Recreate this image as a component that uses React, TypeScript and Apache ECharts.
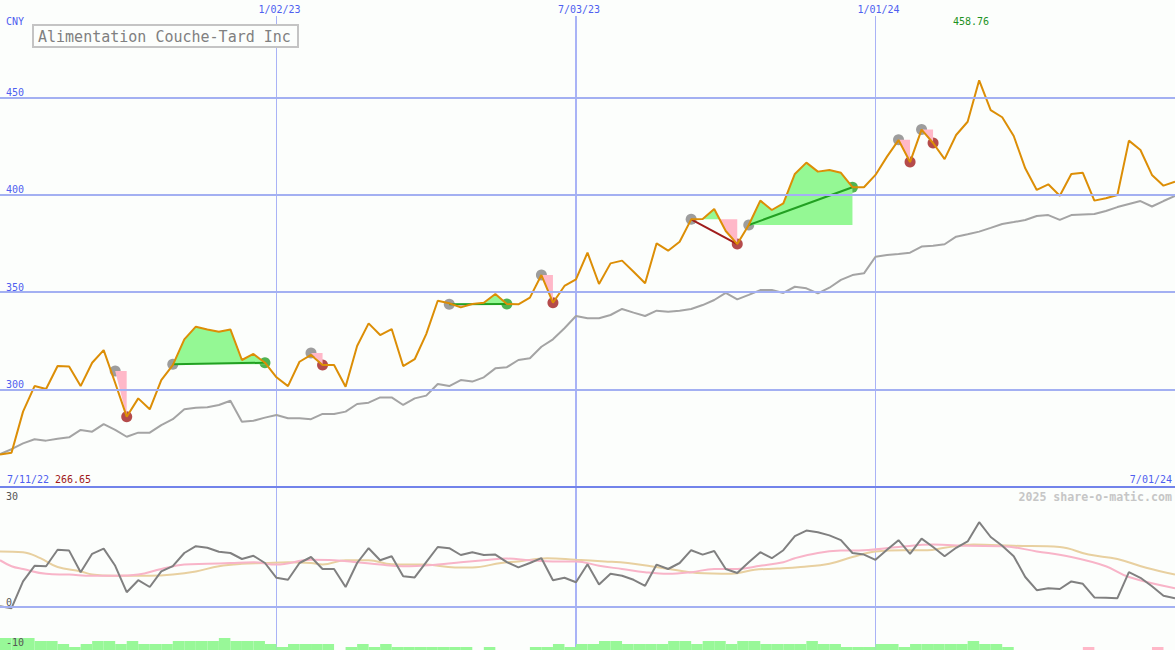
import { useEffect, useRef } from 'react';
import * as echarts from 'echarts';

// ---------- data ----------
const currency = 'CNY';
const company = 'Alimentation Couche-Tard Inc';
const credit = '2025 share-o-matic.com';
const firstDate = '7/11/22';
const lastDate = '7/01/24';
const dateLabels = ['1/02/23', '7/03/23', '1/01/24'];
const dateWeeks = [24, 50, 76];
const priceTicks = [300, 350, 400, 450];
const oscTicks = [0, -10];
const oscTopTicks = [30];

// weekly closes (week 0 .. 102)
const price = [
  266.65, 267.6, 288.7, 301.8, 300.3, 312.1, 311.8, 301.8, 313.8, 320.3,
  303.4, 286.1, 295.5, 289.9, 304.9, 312.6, 325.8, 332.3, 330.9, 329.7,
  330.9, 315.2, 318.3, 313.8, 306.3, 301.8, 314.3, 317.8, 312.6, 312.6,
  301.5, 322.4, 334.0, 328.0, 331.1, 312.1, 315.6, 328.5, 345.6, 344.3,
  342.2, 343.9, 344.6, 349.1, 343.9, 343.8, 347.2, 358.8, 344.6, 353.2,
  356.6, 370.3, 354.2, 364.8, 366.2, 360.5, 354.6, 375.1, 371.3, 375.9,
  387.4, 387.6, 392.7, 381.4, 374.7, 384.5, 397.0, 392.2, 395.6, 410.7,
  416.5, 411.9, 412.7, 411.3, 403.9, 403.9, 410.2, 419.6, 428.1, 416.8,
  433.5, 426.6, 418.3, 430.7, 437.5, 458.76, 443.5, 439.8, 430.2, 413.6,
  402.5, 405.4, 399.5, 410.7, 411.3, 397.0, 398.2, 399.9, 427.8, 423.0,
  410.2, 404.7, 406.7,
];

// moving average (grey)
const average = [
  266.9, 269.4, 272.4, 274.5, 273.8, 274.8, 275.5, 279.3, 278.4, 282.3,
  279.3, 275.8, 277.9, 277.9, 281.8, 284.8, 289.9, 290.7, 290.9, 292.1,
  294.3, 283.5, 284.0, 285.6, 287.0, 285.3, 285.3, 284.8, 287.5, 287.5,
  288.7, 292.6, 293.3, 296.0, 296.0, 292.1, 295.5, 296.9, 302.9, 301.8,
  304.9, 304.1, 306.3, 310.9, 311.5, 315.2, 316.1, 322.0, 325.8, 331.5,
  337.8, 336.6, 336.6, 338.3, 341.4, 339.5, 337.8, 340.5, 340.0, 340.5,
  341.4, 343.4, 346.0, 349.7, 346.3, 348.6, 351.1, 351.1, 349.6, 352.8,
  352.0, 349.4, 352.3, 356.3, 358.8, 359.7, 368.2, 369.1, 369.6, 370.3,
  373.4, 373.9, 374.6, 378.5, 379.7, 381.1, 383.0, 385.0, 386.0, 387.1,
  389.1, 389.6, 387.1, 389.6, 389.9, 390.1, 391.7, 393.7, 395.3, 396.8,
  394.0, 396.8, 399.4,
];

// lower panel oscillator (dark grey)
const oscillator = [
  0.2, -0.3, 6.4, 10.3, 10.2, 14.3, 14.1, 8.7, 13.3, 14.6,
  10.3, 3.7, 6.7, 5.0, 8.9, 10.2, 13.5, 15.2, 14.8, 13.8,
  13.5, 12.0, 12.8, 11.0, 7.3, 6.8, 11.0, 12.5, 9.5, 9.5,
  5.0, 11.0, 14.7, 11.7, 12.7, 7.7, 7.4, 11.2, 15.0, 14.7,
  13.0, 13.7, 13.0, 13.1, 11.2, 9.9, 11.0, 12.2, 6.7, 7.3,
  6.2, 10.7, 5.6, 8.3, 7.8, 6.8, 5.3, 10.6, 9.5, 11.0,
  14.2, 13.1, 14.0, 9.5, 8.5, 11.2, 13.7, 12.2, 14.2, 17.7,
  19.1, 18.7, 17.9, 16.7, 13.5, 13.1, 11.8, 14.3, 16.7, 13.3,
  17.1, 15.0, 12.7, 14.8, 16.4, 21.2, 17.5, 15.3, 12.7, 7.5,
  4.2, 4.7, 4.5, 6.4, 5.8, 2.4, 2.3, 2.2, 8.7, 7.3,
  5.2, 2.8, 2.2,
];

// smoothed signal lines, [week, value]
const pinkSignal: [number, number][] = [
  [0, 11.7], [1, 10.2], [2, 9.5], [4, 8.3], [6, 8.1], [8, 7.8], [10, 7.8], [12, 8.1],
  [14, 9.5], [16, 10.6], [18, 10.8], [20, 11.0], [22, 11.2], [24, 10.6], [27, 11.8],
  [29, 11.7], [31, 11.2], [33, 10.6], [35, 10.2], [38, 10.6], [40, 11.2], [42, 11.7],
  [44, 12.1], [46, 11.7], [48, 11.4], [50, 11.4], [52, 10.3], [54, 9.5], [56, 8.7],
  [58, 8.3], [60, 8.7], [62, 9.5], [64, 9.5], [66, 10.3], [68, 11.2], [69, 12.2],
  [71, 13.5], [73, 14.1], [75, 14.2], [78, 15.0], [81, 15.6], [84, 15.3], [87, 15.2],
  [90, 13.9], [93, 12.5], [96, 10.2], [98, 7.5], [102, 4.7],
];
const tanSignal: [number, number][] = [
  [0, 13.9], [2, 13.7], [3.5, 12.2], [5, 10.0], [7, 8.9], [8, 8.1], [10, 7.8], [13, 7.8],
  [15, 8.1], [17, 8.9], [19, 10.2], [21, 10.8], [23, 11.0], [25, 11.2], [27, 11.0],
  [28, 10.6], [30, 11.7], [32, 11.7], [34, 10.7], [37, 10.6], [39.5, 9.9], [41, 9.9],
  [43.5, 11.0], [45, 11.4], [47.5, 12.2], [50, 11.8], [52.5, 11.4], [54.5, 11.0],
  [56.5, 10.2], [58.5, 9.3], [60.5, 8.5], [63.5, 8.3], [65.5, 9.3], [67.5, 9.6],
  [69.5, 10.0], [72, 10.8], [74, 12.5], [76, 13.9], [78.5, 14.2], [80.5, 14.2],
  [82, 14.8], [84.5, 15.6], [88, 15.3], [92, 15.0], [94.5, 13.1], [97, 12.0],
  [99.5, 9.8], [102, 8.1],
];

// bottom strength histogram, one bar per week (negative = pink)
const strength = [
  4, 4, 4, 3, 3, 2, 1, 2, 3, 3, 2, 3, 2, 2, 2, 3, 3, 3, 3, 4,
  3, 3, 3, 2, 1, 2, 2, 2, 2, 0, 1, 2, 1, 2, 1, 1, 1, 1, 1, 1,
  1, 0, 1, 0, 0, 0, 1, 1, 2, 1, 2, 2, 3, 3, 2, 2, 2, 2, 3, 3,
  2, 3, 3, 2, 3, 3, 2, 2, 2, 2, 3, 2, 2, 1, 1, 1, 2, 2, 1, 2,
  2, 2, 2, 2, 3, 2, 2, 1, 0, 0, 0, 0, 0, 0, -1, 0, 0, 0, 0, 0,
  -1, 0,
];

// trades
const entryWeek = [10, 15, 27, 39, 47, 60, 65, 78, 80];
const entryPrice = [309.6, 313.0, 318.8, 343.8, 358.8, 387.4, 384.5, 428.3, 433.5];
const exitWeek = [11, 23, 28, 44, 48, 64, 74, 79, 81];

// ---------- helpers ----------
const GREEN_FILL = '#94f894';
const PINK_FILL = '#ffb8c8';
const FONT = '"DejaVu Sans Mono", monospace';

function tradePath(k: number): number[][] {
  const pts = [[entryWeek[k], entryPrice[k]]];
  for (let i = entryWeek[k] + 1; i <= exitWeek[k]; i++) pts.push([i, price[i]]);
  return pts;
}
function clipToLevel(pts: number[][], level: number, above: boolean): number[][] {
  const f = above ? Math.max : Math.min;
  const out: number[][] = [[pts[0][0], level]];
  for (let j = 0; j < pts.length; j++) {
    const [x, y] = pts[j];
    if (j > 0) {
      const [x0, y0] = pts[j - 1];
      if ((y0 - level) * (y - level) < 0) {
        const t = (level - y0) / (y - y0);
        out.push([x0 + t * (x - x0), level]);
      }
    }
    out.push([x, f(y, level)]);
  }
  out.push([pts[pts.length - 1][0], level]);
  return out;
}

const fillPolys: number[][][] = [];
const fillColors: string[] = [];
entryWeek.forEach((_, k) => {
  const pts = tradePath(k);
  fillPolys.push(clipToLevel(pts, entryPrice[k], true));
  fillColors.push(GREEN_FILL);
  fillPolys.push(clipToLevel(pts, entryPrice[k], false));
  fillColors.push(PINK_FILL);
});

const isWin = (k: number) => price[exitWeek[k]] >= entryPrice[k];
const lineTrades = entryWeek.map((_, k) => k).filter((k) => exitWeek[k] - entryWeek[k] > 1);

export default function App() {
  const ref = useRef<HTMLDivElement>(null);
  useEffect(() => {
    if (!ref.current) return;
    const chart = echarts.init(ref.current, undefined, { renderer: 'svg' });
    const maxV = Math.max(...price);
    const minV = Math.min(...price);
    const lastWeek = price.length - 1;
    const barW = 1175 / lastWeek;
    const LINE_TOP = 16;
    const CLEAR = 'rgba(0,0,0,0)';

    const xBase = { type: 'value', min: 0, max: lastWeek, show: false, splitLine: { show: false } };
    const textStyle = (o: any) => ({ ...o, textAlign: o.align, textVerticalAlign: o.verticalAlign });

    chart.setOption({
      animation: false,
      backgroundColor: '#fcfefc',
      grid: [
        { left: 0, top: 0, width: 1175, height: 487 },
        { left: 0, top: 487, width: 1175, height: 160 },
        { left: 0, top: 635, width: 1175, height: 15 },
      ],
      xAxis: [
        { ...xBase, gridIndex: 0 },
        { ...xBase, gridIndex: 1 },
        { ...xBase, gridIndex: 2 },
      ],
      yAxis: [
        {
          type: 'value', gridIndex: 0, position: 'left', min: 250, max: 500, interval: 50,
          axisLine: { show: false }, axisTick: { show: false },
          axisLabel: {
            inside: true, margin: 6, verticalAlign: 'bottom', color: '#4f5ff0',
            fontSize: 10, fontFamily: FONT,
            formatter: (v: number) => (priceTicks.includes(v) ? String(v) : ''),
          },
          splitLine: {
            show: true,
            lineStyle: { width: 2, color: ['#7283ea', '#a3b0f2', '#a3b0f2', '#a3b0f2', '#a3b0f2', CLEAR] },
          },
          z: 10,
        },
        {
          type: 'value', gridIndex: 1, position: 'left', min: -10, max: 30, interval: 10,
          axisLine: { show: false }, axisTick: { show: false },
          axisLabel: {
            inside: true, margin: 6, verticalAlign: 'bottom', color: '#555555',
            fontSize: 10, fontFamily: FONT,
            formatter: (v: number) => (oscTicks.includes(v) ? String(v) : ''),
          },
          splitLine: {
            show: true,
            lineStyle: { width: 2, color: [CLEAR, '#a3b0f2', CLEAR, CLEAR, CLEAR] },
          },
          z: 10,
        },
        {
          type: 'value', gridIndex: 1, position: 'left', offset: 0, min: -10, max: 30, interval: 10,
          axisLine: { show: false }, axisTick: { show: false }, splitLine: { show: false },
          axisLabel: {
            inside: true, margin: 6, verticalAlign: 'top', padding: [4, 0, 0, 0], color: '#555555',
            fontSize: 10, fontFamily: FONT,
            formatter: (v: number) => (oscTopTicks.includes(v) ? String(v) : ''),
          },
          z: 10,
        },
        {
          type: 'value', gridIndex: 2, position: 'left', min: 0, max: 5, show: false, splitLine: { show: false },
        },
      ],
      graphic: {
        elements: [
          {
            type: 'text', x: 6, y: 21.5, z: 20,
            style: textStyle({ text: currency, fill: '#4f5ff0', fontSize: 10, fontFamily: FONT, align: 'left', verticalAlign: 'middle' }),
          },
          {
            type: 'rect', z: 20, shape: { x: 33, y: 25, width: 265, height: 22 },
            style: { fill: '#fcfefc', stroke: '#c4c4c4', lineWidth: 2 },
          },
          {
            type: 'text', x: 38, y: 36.5, z: 21,
            style: textStyle({ text: company, fill: '#808080', fontSize: 15, fontFamily: FONT, align: 'left', verticalAlign: 'middle' }),
          },
          {
            type: 'text', x: 971, y: 21.5, z: 20,
            style: textStyle({ text: maxV.toFixed(2), fill: '#1f921f', fontSize: 10, fontFamily: FONT, align: 'center', verticalAlign: 'middle' }),
          },
          {
            type: 'text', x: 7, y: 479, z: 20,
            style: textStyle({ text: firstDate, fill: '#4f5ff0', fontSize: 10, fontFamily: FONT, align: 'left', verticalAlign: 'middle' }),
          },
          {
            type: 'text', x: 55, y: 479, z: 20,
            style: textStyle({ text: minV.toFixed(2), fill: '#a01818', fontSize: 10, fontFamily: FONT, align: 'left', verticalAlign: 'middle' }),
          },
          {
            type: 'text', x: 1172, y: 479, z: 20,
            style: textStyle({ text: lastDate, fill: '#4f5ff0', fontSize: 10, fontFamily: FONT, align: 'right', verticalAlign: 'middle' }),
          },
          {
            type: 'text', x: 1172, y: 496.5, z: 20,
            style: textStyle({ text: credit, fill: '#c6c6c6', fontSize: 11.6, fontWeight: 'bold', fontFamily: FONT, align: 'right', verticalAlign: 'middle' }),
          },
        ],
      },
      series: [
        {
          type: 'custom', name: 'dateLines', xAxisIndex: 0, yAxisIndex: 0, z: 1, silent: true,
          data: dateWeeks.map((w) => [w, 300]),
          renderItem: (params: any, api: any) => {
            const k = params.dataIndex;
            const px = api.coord([api.value(0), api.value(1)])[0];
            const wide = k === 1;
            const x = wide ? Math.round(px) : Math.round(px) + 0.5;
            return {
              type: 'group',
              children: [
                {
                  type: 'line',
                  shape: { x1: x, y1: LINE_TOP, x2: x, y2: api.getHeight() },
                  style: { stroke: '#a9b3f6', lineWidth: wide ? 2 : 1 },
                },
                {
                  type: 'text', x: x + 3, y: 9,
                  style: textStyle({ text: dateLabels[k], fill: '#4f5ff0', fontSize: 10, fontFamily: FONT, align: 'center', verticalAlign: 'middle' }),
                },
              ],
            };
          },
        },
        {
          type: 'line', name: 'average', xAxisIndex: 0, yAxisIndex: 0, z: 2,
          data: average.map((v, i) => [i, v]), showSymbol: false,
          lineStyle: { color: '#a4a4a4', width: 2 },
        },
        {
          type: 'scatter', name: 'entries', xAxisIndex: 0, yAxisIndex: 0, z: 3,
          data: entryWeek.map((w, k) => [w, entryPrice[k]]), symbolSize: 11,
          itemStyle: { color: '#858585' },
        },
        {
          type: 'scatter', name: 'wins', xAxisIndex: 0, yAxisIndex: 0, z: 3,
          data: entryWeek.map((_, k) => k).filter(isWin).map((k) => [exitWeek[k], price[exitWeek[k]]]),
          symbolSize: 11, itemStyle: { color: '#26a026' },
        },
        {
          type: 'scatter', name: 'losses', xAxisIndex: 0, yAxisIndex: 0, z: 3,
          data: entryWeek.map((_, k) => k).filter((k) => !isWin(k)).map((k) => [exitWeek[k], price[exitWeek[k]]]),
          symbolSize: 11, itemStyle: { color: '#a21e1e' },
        },
        {
          type: 'custom', name: 'fills', xAxisIndex: 0, yAxisIndex: 0, z: 4, silent: true,
          data: fillPolys.map((p, k) => [p[0][0], p[0][1], k]),
          renderItem: (_params: any, api: any) => {
            const k = api.value(2);
            return {
              type: 'polygon',
              shape: { points: fillPolys[k].map((p) => api.coord(p)) },
              style: { fill: fillColors[k] },
            };
          },
        },
        {
          type: 'custom', name: 'tradeLines', xAxisIndex: 0, yAxisIndex: 0, z: 5, silent: true,
          data: lineTrades.map((k) => [entryWeek[k], entryPrice[k], exitWeek[k], price[exitWeek[k]], k]),
          renderItem: (_params: any, api: any) => {
            const a = api.coord([api.value(0), api.value(1)]);
            const b = api.coord([api.value(2), api.value(3)]);
            const win = isWin(api.value(4));
            return {
              type: 'line',
              shape: { x1: a[0], y1: a[1], x2: b[0], y2: b[1] },
              style: { stroke: win ? '#22a022' : '#a01c1c', lineWidth: 2 },
            };
          },
        },
        {
          type: 'line', name: 'price', xAxisIndex: 0, yAxisIndex: 0, z: 6,
          data: price.map((v, i) => [i, v]), showSymbol: false,
          lineStyle: { color: '#dc8e06', width: 2 },
        },
        {
          type: 'line', name: 'tan', xAxisIndex: 1, yAxisIndex: 1, z: 3,
          data: tanSignal, showSymbol: false, smooth: 0.4,
          lineStyle: { color: '#e8d0a0', width: 2 },
        },
        {
          type: 'line', name: 'pink', xAxisIndex: 1, yAxisIndex: 1, z: 3,
          data: pinkSignal, showSymbol: false, smooth: 0.4,
          lineStyle: { color: '#f8b4c8', width: 2 },
        },
        {
          type: 'line', name: 'oscillator', xAxisIndex: 1, yAxisIndex: 1, z: 4,
          data: oscillator.map((v, i) => [i, v]), showSymbol: false,
          lineStyle: { color: '#808080', width: 2 },
        },
        {
          type: 'bar', name: 'strengthUp', xAxisIndex: 2, yAxisIndex: 3, z: 2,
          data: strength.map((v, i) => (v > 0 ? [i + 0.5, v] : null)).filter(Boolean),
          barWidth: barW, barGap: '-100%', itemStyle: { color: '#98f898' },
        },
        {
          type: 'bar', name: 'strengthDown', xAxisIndex: 2, yAxisIndex: 3, z: 2,
          data: strength.map((v, i) => (v < 0 ? [i + 0.5, -v] : null)).filter(Boolean),
          barWidth: barW, barGap: '-100%', itemStyle: { color: '#ffb8c8' },
        },
      ],
    });
    return () => chart.dispose();
  }, []);
  return (
    <div
      ref={ref}
      style={{ position: 'absolute', left: 0, top: 0, width: 1175, height: 650 }}
    />
  );
}
